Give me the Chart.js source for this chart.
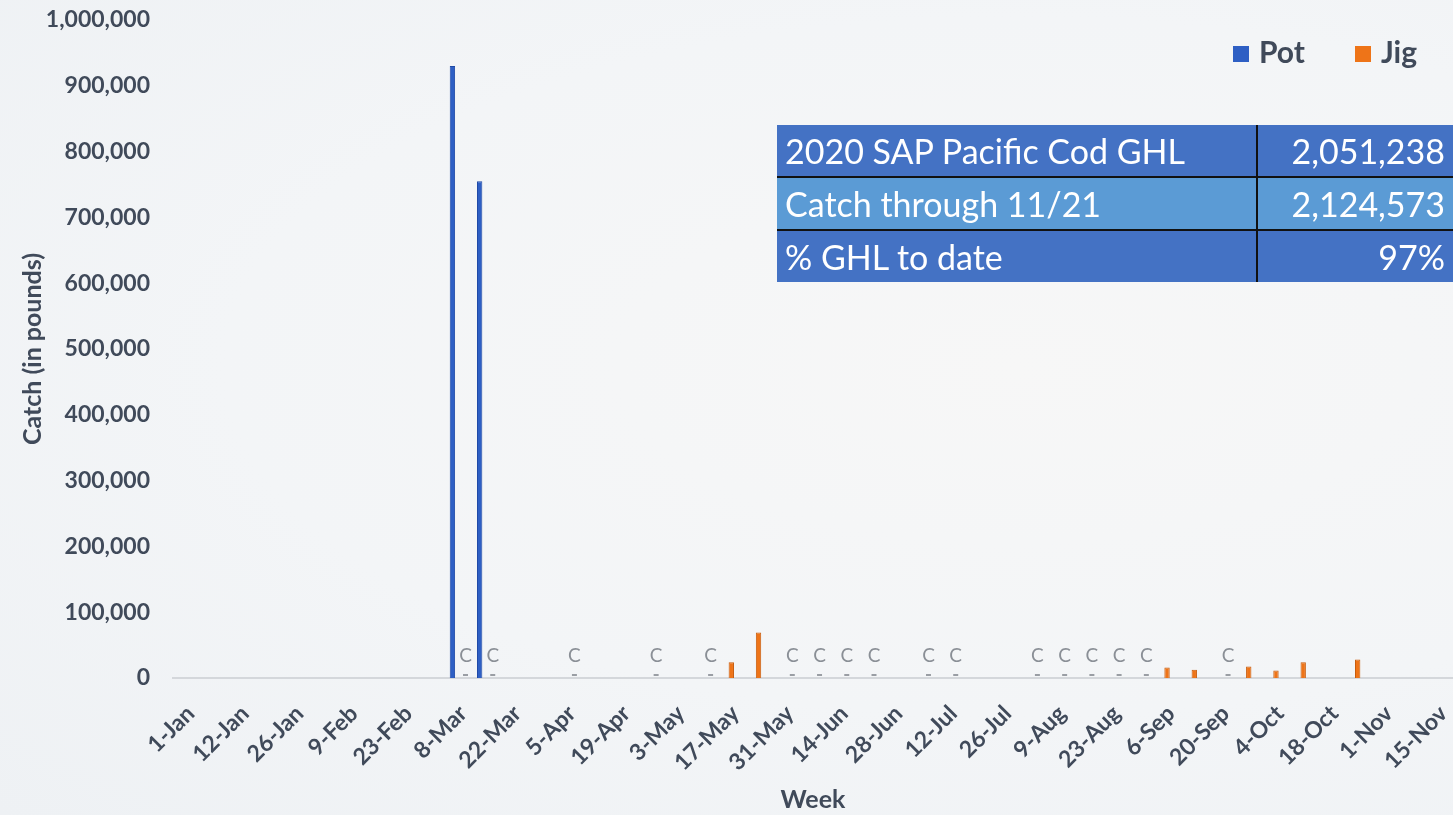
<!DOCTYPE html>
<html>
<head>
<meta charset="utf-8">
<title>SAP Pacific Cod catch by week</title>
<script src="https://cdn.jsdelivr.net/npm/chart.js@4.4.1/dist/chart.umd.min.js"></script>
<style>
  body { margin: 0; background: #f3f5f7; }
  #wrap {
    position: relative; width: 1453px; height: 815px; overflow: hidden;
    background: radial-gradient(ellipse at 70% 45%, #f7f7f7 0%, #f3f5f7 55%, #eef1f4 100%);
  }
  #myChart { position: absolute; left: 0; top: 0; }
  #ghl {
    position: absolute; left: 777px; top: 125px; width: 700px; table-layout: fixed;
    border-collapse: collapse; font-family: Lato, sans-serif; font-size: 34px; color: #fff;
  }
  #ghl td { height: 51px; padding: 0 8px; line-height: 51px; white-space: nowrap; }
  #ghl td.name { width: 463px; }
  #ghl tr.dark td { background: #4472c4; }
  #ghl tr.light td { background: #5b9bd5; }
  #ghl tr + tr td { border-top: 2px solid #111; }
  #ghl td.num { text-align: right; border-left: 2px solid #111; padding-right: 32px; }
  #legend {
    position: absolute; top: 33px; left: 1233px; font-family: Lato, sans-serif;
    font-weight: bold; font-size: 30px; color: #404a5a; white-space: nowrap;
  }
  #legend span.box { display: inline-block; width: 16px; height: 16px; margin-right: 10px; vertical-align: 1px; }
  #legend span.item { margin-right: 50px; }
</style>
</head>
<body>
<div id="wrap">
  <canvas id="myChart" width="1453" height="815"></canvas>
  <div id="legend"></div>
  <table id="ghl">
    <tr class="dark"><td class="name">2020 SAP Pacific Cod GHL</td><td class="num">2,051,238</td></tr>
    <tr class="light"><td class="name">Catch through 11/21</td><td class="num">2,124,573</td></tr>
    <tr class="dark"><td class="name">% GHL to date</td><td class="num">97%</td></tr>
  </table>
</div>
<script>
'use strict';

// weekly categories (every other one gets a tick label)
var weeks = ['1-Jan','5-Jan','12-Jan','19-Jan','26-Jan','2-Feb','9-Feb','16-Feb','23-Feb','1-Mar',
'8-Mar','15-Mar','22-Mar','29-Mar','5-Apr','12-Apr','19-Apr','26-Apr','3-May','10-May',
'17-May','24-May','31-May','7-Jun','14-Jun','21-Jun','28-Jun','5-Jul','12-Jul','19-Jul',
'26-Jul','2-Aug','9-Aug','16-Aug','23-Aug','30-Aug','6-Sep','13-Sep','20-Sep','27-Sep',
'4-Oct','11-Oct','18-Oct','25-Oct','1-Nov','8-Nov','15-Nov'];

// catch in pounds
var potWeeks = ['8-Mar','15-Mar'];
var potCatch = [930000, 755000];

var jigWeeks = ['17-May','24-May','6-Sep','13-Sep','27-Sep','4-Oct','11-Oct','25-Oct'];
var jigCatch = [24000, 69000, 16000, 12500, 17500, 11500, 24000, 28000];

// weeks reported as confidential ("C")
var confWeeks = ['8-Mar','15-Mar','5-Apr','26-Apr','10-May','31-May','7-Jun','14-Jun','21-Jun',
'5-Jul','12-Jul','2-Aug','9-Aug','16-Aug','23-Aug','30-Aug','20-Sep'];

var yTicks = [0, 100000, 200000, 300000, 400000, 500000, 600000, 700000, 800000, 900000, 1000000];

var textColor = '#404a5a';
var potColor = '#2e5fc4';
var jigColor = '#ee7418';

function fillSeries(names, values) {
  var out = [];
  for (var i = 0; i < weeks.length; i++) {
    var k = names.indexOf(weeks[i]);
    out.push(k === -1 ? null : values[k]);
  }
  return out;
}

var confData = [];
for (var i = 0; i < weeks.length; i++) {
  confData.push(confWeeks.indexOf(weeks[i]) === -1 ? null : 0);
}

// draws the "C" marks and little dashes over the confidential slot
var confLabels = {
  id: 'confLabels',
  afterDatasetsDraw: function(chart) {
    var ctx = chart.ctx;
    var meta = chart.getDatasetMeta(2);
    var y0 = chart.scales.y.getPixelForValue(0);
    ctx.save();
    ctx.fillStyle = '#8a8f96';
    ctx.strokeStyle = '#9a9ea4';
    ctx.lineWidth = 2;
    ctx.font = '19px Lato';
    ctx.textAlign = 'center';
    ctx.textBaseline = 'middle';
    meta.data.forEach(function(bar, idx) {
      if (confData[idx] === null) return;
      ctx.fillText('C', bar.x, y0 - 22);
      ctx.beginPath();
      ctx.moveTo(bar.x - 2.5, y0 - 3);
      ctx.lineTo(bar.x + 2.5, y0 - 3);
      ctx.stroke();
    });
    ctx.restore();
  }
};

var ctx = document.getElementById('myChart');

var myChart = new Chart(ctx, {
  type: 'bar',
  data: {
    labels: weeks,
    datasets: [{
      label: 'Pot',
      data: fillSeries(potWeeks, potCatch),
      backgroundColor: potColor,
      borderColor: '#1f4aa6',
      borderWidth: 1
    }, {
      label: 'Jig',
      data: fillSeries(jigWeeks, jigCatch),
      backgroundColor: jigColor,
      borderColor: '#c85c0c',
      borderWidth: 1
    }, {
      label: 'Confidential',
      data: confData,
      backgroundColor: 'rgba(0,0,0,0)'
    }]
  },
  options: {
    responsive: false,
    animation: false,
    categoryPercentage: 0.72,
    barPercentage: 0.82,
    layout: { padding: { top: 20, right: 0, bottom: 0, left: 0 } },
    plugins: {
      tooltip: { enabled: false },
      legend: { display: false }
    },
    scales: {
      x: {
        afterFit: function(axis) {
          axis.height = 137;
          axis.paddingLeft = 0;
          axis.paddingRight = 0;
        },
        grid: { display: false, drawTicks: false },
        border: { display: true, color: '#d4d7db', width: 2 },
        ticks: {
          autoSkip: false,
          minRotation: 45,
          maxRotation: 45,
          padding: 22,
          labelOffset: 4,
          color: textColor,
          font: { family: 'Lato', size: 23, weight: 'bold' },
          callback: function(val, idx) { return idx % 2 === 0 ? weeks[idx] : ''; }
        },
        title: {
          display: true,
          text: 'Week',
          color: textColor,
          padding: 0,
          font: { family: 'Lato', size: 25, weight: 'bold' }
        }
      },
      y: {
        min: yTicks[0],
        max: yTicks[yTicks.length - 1],
        afterFit: function(axis) {
          axis.width = 173;
          axis.paddingTop = 0;
          axis.paddingBottom = 0;
        },
        afterBuildTicks: function(axis) {
          axis.ticks = yTicks.map(function(v) { return { value: v }; });
        },
        grid: { display: false, drawTicks: false },
        border: { display: false },
        ticks: {
          padding: 23,
          color: textColor,
          font: { family: 'Lato', size: 23, weight: 'bold' },
          callback: function(v) { return v.toLocaleString('en-US'); }
        },
        title: {
          display: true,
          text: 'Catch (in pounds)',
          color: textColor,
          padding: { top: 18, bottom: 0 },
          font: { family: 'Lato', size: 25, weight: 'bold' }
        }
      }
    }
  },
  plugins: [confLabels]
});

// legend built from the chart's own datasets
var legend = document.getElementById('legend');
myChart.data.datasets.slice(0, 2).forEach(function(ds) {
  var item = document.createElement('span');
  item.className = 'item';
  var box = document.createElement('span');
  box.className = 'box';
  box.style.background = ds.backgroundColor;
  item.appendChild(box);
  item.appendChild(document.createTextNode(ds.label));
  legend.appendChild(item);
});
</script>
</body>
</html>
